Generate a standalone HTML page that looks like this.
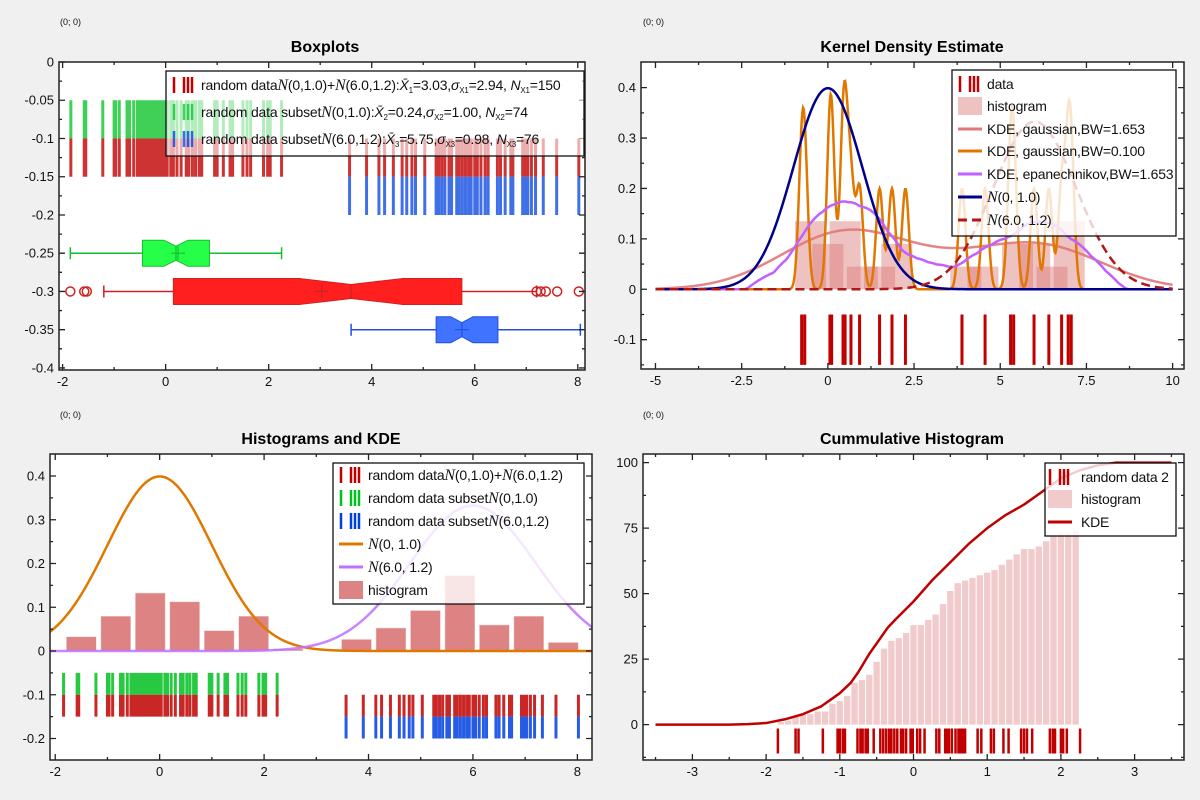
<!DOCTYPE html>
<html><head><meta charset="utf-8">
<style>
html,body{margin:0;padding:0;background:#f0f0f0;}
svg{display:block;font-family:"Liberation Sans","DejaVu Sans",sans-serif;}
.tl{font-size:13px;fill:#111;}
.lg{font-size:14px;fill:#111;letter-spacing:-0.2px;}
.ttl{font-size:16px;font-weight:bold;fill:#000;}
.org{font-size:9px;fill:#111;}
</style></head>
<body>
<svg id="root" width="1200" height="800" viewBox="0 0 1200 800" xmlns="http://www.w3.org/2000/svg"></svg>
<script>
// ---------- data ----------
const groupA = [-1.84,-1.58,-1.55,-1.22,-1.0,-0.97,-0.9,-0.75,-0.7,-0.62,-0.55,-0.5,-0.45,-0.4,-0.35,-0.3,-0.25,-0.2,-0.15,-0.1,-0.05,0.0,0.03,0.1,0.15,0.22,0.3,0.4,0.45,0.52,0.58,0.65,0.7,0.95,1.0,1.12,1.25,1.3,1.5,1.58,1.65,1.9,1.98,2.03,2.25];
const groupB = [3.57,3.9,4.14,4.25,4.42,4.59,4.68,4.78,4.85,5.03,5.25,5.3,5.36,5.42,5.5,5.55,5.65,5.7,5.76,5.82,5.88,5.93,6.0,6.05,6.12,6.2,6.26,6.44,6.5,6.59,6.7,6.74,6.93,6.98,7.03,7.1,7.18,7.33,7.59,8.02];
const boxNames = ['green','red','blue'];
const boxMin = [-1.85,-1.2,3.6];
const boxQ1 = [-0.45,0.15,5.25];
const boxMed = [0.2,3.6,5.75];
const boxQ3 = [0.85,5.75,6.45];
const boxMax = [2.25,7.2,8.05];
const boxMean = [0.24,3.03,5.75];
const boxPos = [-0.25,-0.3,-0.35];
const redOutliers = [-1.85,-1.58,-1.53,7.2,7.28,7.38,7.6,8.02];

const kdeRug = [-0.76,-0.67,0.06,0.11,0.44,0.5,0.67,0.92,1.5,1.86,2.25,3.89,4.56,5.3,5.39,5.98,6.41,6.78,6.97,7.06];
const kdeHistCenters = [-0.5,0,0.5,1,1.5,2,4,4.5,5.5,6,6.5,7];
const kdeHistHeights = [0.135,0.09,0.135,0.045,0.045,0.09,0.045,0.045,0.09,0.09,0.045,0.135];

const histCenters = [-1.5,-0.84,-0.18,0.48,1.14,1.8,2.46,3.77,4.43,5.09,5.75,6.41,7.07,7.73];
const histHeights = [0.033,0.08,0.133,0.113,0.047,0.08,0.005,0.027,0.053,0.093,0.173,0.06,0.08,0.02];

const cumRug = [-1.84,-1.6,-1.56,-1.23,-1.03,-1.0,-0.96,-0.93,-0.76,-0.72,-0.69,-0.65,-0.62,-0.54,-0.45,-0.41,-0.37,-0.33,-0.3,-0.26,-0.22,-0.17,-0.14,-0.1,-0.04,-0.01,0.05,0.09,0.15,0.31,0.35,0.43,0.46,0.48,0.52,0.57,0.61,0.64,0.67,0.7,0.87,0.92,1.05,1.09,1.22,1.29,1.46,1.5,1.54,1.61,1.85,1.89,1.92,2.0,2.03,2.08,2.26];
const cumCounts = [1,1.5,3,4,4,5,5,8,9,11,16,17,19,24,29,32,33,35,38,38,40,42,46,51,54,55,56,57,58,59,61,63,65,67,67,68,70,72,73,73,74];
const cumBinStart = -1.85;
const cumBinWidth = 0.1;
const cumKdeX = [-3.5,-3,-2.5,-2.25,-2,-1.75,-1.5,-1.25,-1,-0.85,-0.75,-0.6,-0.5,-0.35,-0.25,0,0.25,0.5,0.75,1,1.25,1.5,1.75,2,2.25,2.5,2.75,3,3.5];
const cumKdeY = [0,0,0,0.2,0.6,2,4,7,12,16,20,27,31,37,40,47,55,62,69,75,80,84,89,94,97,99,100,100,100];

// ---------- helpers ----------
const NS = 'http://www.w3.org/2000/svg';
const root = document.getElementById('root');
function mk(tag, attrs, parent, name){
  const e = document.createElementNS(NS, tag);
  for (const k in attrs) e.setAttribute(k, attrs[k]);
  
  
  parent.appendChild(e);
  return e;
}
function Panel(name, f, xd, yd){
  const p = {f:f, xd:xd, yd:yd};
  p.x = v => f.l + (v - xd[0]) / (xd[1] - xd[0]) * (f.r - f.l);
  p.y = v => f.b - (v - yd[0]) / (yd[1] - yd[0]) * (f.b - f.t);
  p.g = mk('g', {}, root, name);
  mk('rect', {x:f.l, y:f.t, width:f.r-f.l, height:f.b-f.t, fill:'#fff'}, p.g, 'plot-area');
  const cid = name + '-clip';
  const cp = mk('clipPath', {id:cid}, p.g, 'clip');
  mk('rect', {x:f.l, y:f.t, width:f.r-f.l, height:f.b-f.t}, cp, 'clip-rect');
  p.c = mk('g', {'clip-path':'url(#'+cid+')'}, p.g, 'plot-content');
  return p;
}
function axes(p, xt, yt, xm, ym, xfmt, yfmt){
  const f = p.f, g = mk('g', {}, p.g, 'axes');
  let d = '';
  xt.forEach(v => { const X = p.x(v); d += `M${X},${f.b}v-6M${X},${f.t}v6`; });
  yt.forEach(v => { const Y = p.y(v); d += `M${f.l},${Y}h6M${f.r},${Y}h-6`; });
  xm.forEach(v => { const X = p.x(v); d += `M${X},${f.b}v-3M${X},${f.t}v3`; });
  ym.forEach(v => { const Y = p.y(v); d += `M${f.l},${Y}h3M${f.r},${Y}h-3`; });
  mk('path', {d:d, stroke:'#222', 'stroke-width':1.3, fill:'none'}, g, 'tick-marks');
  xt.forEach(v => { const t = mk('text', {x:p.x(v), y:f.b+16, 'text-anchor':'middle', class:'tl'}, g, 'x-tick-label'); t.textContent = xfmt(v); });
  yt.forEach(v => { const t = mk('text', {x:f.l-5, y:p.y(v)+4.5, 'text-anchor':'end', class:'tl'}, g, 'y-tick-label'); t.textContent = yfmt(v); });
  mk('rect', {x:f.l, y:f.t, width:f.r-f.l, height:f.b-f.t, fill:'none', stroke:'#222', 'stroke-width':1.5}, g, 'plot-frame');
}
function title(txt, cx, y, ox, oy){
  const t = mk('text', {x:cx, y:y, 'text-anchor':'middle', class:'ttl'}, root, 'chart-title'); t.textContent = txt;
  const o = mk('text', {x:ox, y:oy, class:'org'}, root, 'origin-label'); o.textContent = '(0; 0)';
}
function rug(p, vals, y0, y1, color, w, op, name){
  let d = '';
  vals.forEach(v => { d += `M${p.x(v)},${p.y(y0)}V${p.y(y1)}`; });
  mk('path', {d:d, stroke:color, 'stroke-width':w, 'stroke-opacity':op, fill:'none'}, p.c, name);
}
function linePath(p, xs, ys){ return xs.map((x,i)=>(i?'L':'M')+p.x(x).toFixed(2)+','+p.y(ys[i]).toFixed(2)).join(''); }
function normal(x, m, s){ return Math.exp(-0.5*((x-m)/s)**2)/(s*Math.sqrt(2*Math.PI)); }
function legendBox(g, x, y, w, h, a){ mk('rect', {x:x, y:y, width:w, height:h, fill:'rgba(255,255,255,'+a+')', stroke:'#111', 'stroke-width':1.3}, g, 'legend-box'); }
function legRug(g, x, y, color, name){
  let d = `M${x+2},${y-8}V${y+8}`;
  [x+12, x+16, x+20].forEach(X => d += `M${X},${y-8}V${y+8}`);
  mk('path', {d:d, stroke:color, 'stroke-width':2.5, fill:'none'}, g, name);
}
function legLine(g, x, y, color, dash, name){ mk('line', {x1:x, y1:y, x2:x+24, y2:y, stroke:color, 'stroke-width':3, 'stroke-dasharray':dash||'none'}, g, name); }
function legRect(g, x, y, color, name){ mk('rect', {x:x, y:y-9, width:24, height:18, fill:color}, g, name); }
function legText(g, x, y, html){ const t = mk('text', {x:x, y:y+5, class:'lg'}, g, 'legend-label'); t.innerHTML = html; }
const NN = '<tspan font-family="Liberation Serif" font-style="italic" font-size="16">N</tspan>';

// ---------- Panel 1: Boxplots ----------
title('Boxplots', 325, 52, 60, 25);
const p1 = Panel('boxplot-panel', {l:59, t:62, r:585, b:370}, [-2.07, 8.14], [-0.4027, 0]);
rug(p1, groupA, -0.05, -0.1, '#00c020', 3, 0.75, 'rug-subset-1');
rug(p1, groupA, -0.1, -0.15, '#c00000', 3, 0.8, 'rug-all-left');
rug(p1, groupB, -0.1, -0.15, '#c00000', 3, 0.8, 'rug-all-right');
rug(p1, groupB, -0.15, -0.2, '#0040e0', 3, 0.75, 'rug-subset-2');
const boxFill = ['rgba(0,255,40,0.85)','rgba(255,0,0,0.88)','rgba(30,90,255,0.85)'];
const boxStroke = ['#10c030','#d02020','#2050e0'];
boxNames.forEach((n,i) => {
  const g = mk('g', {}, p1.c, 'boxplot-' + n);
  const yc = p1.y(boxPos[i]), hh = 13, nh = 7;
  const xq1 = p1.x(boxQ1[i]), xq3 = p1.x(boxQ3[i]), xm = p1.x(boxMed[i]);
  const notch = (xq3 - xq1) * 0.18;
  mk('path', {d:`M${p1.x(boxMin[i])},${yc}H${xq1}M${xq3},${yc}H${p1.x(boxMax[i])}M${p1.x(boxMin[i])},${yc-6}v12M${p1.x(boxMax[i])},${yc-6}v12`, stroke:boxStroke[i], 'stroke-width':1.5, fill:'none'}, g, 'whiskers');
  mk('path', {d:`M${xq1},${yc-hh}H${xm-notch}L${xm},${yc-nh}L${xm+notch},${yc-hh}H${xq3}V${yc+hh}H${xm+notch}L${xm},${yc+nh}L${xm-notch},${yc+hh}H${xq1}Z`, fill:boxFill[i], stroke:boxStroke[i], 'stroke-width':1}, g, 'box');
  mk('path', {d:`M${xm},${yc-nh}V${yc+nh}M${p1.x(boxMean[i])-7},${yc}h14M${p1.x(boxMean[i])},${yc-7}v14`, stroke:boxStroke[i], 'stroke-width':1.2, fill:'none'}, g, 'median-mean');
});
redOutliers.forEach(v => { mk('circle', {cx:p1.x(v), cy:p1.y(-0.3), r:4.5, fill:'none', stroke:'#d02020', 'stroke-width':1.5}, p1.c, 'outlier'); });
axes(p1, [-2,0,2,4,6,8], [0,-0.05,-0.1,-0.15,-0.2,-0.25,-0.3,-0.35,-0.4], [-1,1,3,5,7], [-0.025,-0.075,-0.125,-0.175,-0.225,-0.275,-0.325,-0.375], v=>String(v), v=>String(v));
{
  const g = mk('g', {}, p1.g, 'legend');
  legendBox(g, 166, 71, 418, 85, 0.6);
  legRug(g, 172, 85, '#c00000', 'legend-swatch-all');
  legText(g, 201, 85, 'random data'+NN+'(0,1.0)+'+NN+'(6.0,1.2):<tspan font-style="italic">X̄</tspan><tspan font-size="8" dy="3">1</tspan><tspan dy="-3">=3.03,</tspan><tspan font-style="italic">σ</tspan><tspan font-size="8" dy="3">X1</tspan><tspan dy="-3">=2.94, </tspan><tspan font-style="italic">N</tspan><tspan font-size="8" dy="3">X1</tspan><tspan dy="-3">=150</tspan>');
  legRug(g, 172, 112, 'rgba(0,200,40,0.75)', 'legend-swatch-subset-1');
  legText(g, 201, 112, 'random data subset'+NN+'(0,1.0):<tspan font-style="italic">X̄</tspan><tspan font-size="8" dy="3">2</tspan><tspan dy="-3">=0.24,</tspan><tspan font-style="italic">σ</tspan><tspan font-size="8" dy="3">X2</tspan><tspan dy="-3">=1.00, </tspan><tspan font-style="italic">N</tspan><tspan font-size="8" dy="3">X2</tspan><tspan dy="-3">=74</tspan>');
  legRug(g, 172, 139, 'rgba(0,60,230,0.75)', 'legend-swatch-subset-2');
  legText(g, 201, 139, 'random data subset'+NN+'(6.0,1.2):<tspan font-style="italic">X̄</tspan><tspan font-size="8" dy="3">3</tspan><tspan dy="-3">=5.75,</tspan><tspan font-style="italic">σ</tspan><tspan font-size="8" dy="3">X3</tspan><tspan dy="-3">=0.98, </tspan><tspan font-style="italic">N</tspan><tspan font-size="8" dy="3">X3</tspan><tspan dy="-3">=76</tspan>');
}

// ---------- Panel 2: KDE ----------
title('Kernel Density Estimate', 912, 52, 643, 25);
const p2 = Panel('kde-panel', {l:641, t:62, r:1184, b:369}, [-5.42, 10.33], [-0.1582, 0.4509]);
const hw2 = 0.45;
kdeHistCenters.forEach((c,i) => { mk('rect', {x:p2.x(c-hw2), y:p2.y(kdeHistHeights[i]), width:p2.x(c+hw2)-p2.x(c-hw2), height:p2.y(0)-p2.y(kdeHistHeights[i]), fill:'rgba(220,120,120,0.45)'}, p2.c, 'histogram-bar'); });
const kx = []; for (let v = -5; v <= 10.0001; v += 0.02) kx.push(v);
const gk = (h) => kx.map(x => kdeRug.reduce((s,r)=>s+normal(x,r,h),0)/kdeRug.length);
const ek = (h) => kx.map(x => kdeRug.reduce((s,r)=>{const u=(x-r)/h; return s + (Math.abs(u)<1 ? 0.75*(1-u*u)/h : 0);},0)/kdeRug.length);
mk('path', {d:linePath(p2, kx, gk(1.653)), stroke:'#e07878', 'stroke-width':2.5, fill:'none', 'stroke-opacity':0.9}, p2.c, 'kde-gaussian-wide');
mk('path', {d:linePath(p2, kx, gk(0.1)), stroke:'#e07800', 'stroke-width':2.5, fill:'none'}, p2.c, 'kde-gaussian-narrow');
mk('path', {d:linePath(p2, kx, ek(1.653)), stroke:'#c060ff', 'stroke-width':2.5, fill:'none'}, p2.c, 'kde-epanechnikov');
mk('path', {d:linePath(p2, kx, kx.map(x=>normal(x,0,1))), stroke:'#00008b', 'stroke-width':2.5, fill:'none'}, p2.c, 'normal-0-1');
mk('path', {d:linePath(p2, kx, kx.map(x=>normal(x,6,1.2))), stroke:'#b01818', 'stroke-width':2.5, fill:'none', 'stroke-dasharray':'9,5'}, p2.c, 'normal-6-1.2');
rug(p2, kdeRug, -0.05, -0.15, '#c00000', 3, 1, 'rug-data');
axes(p2, [-5,-2.5,0,2.5,5,7.5,10], [-0.1,0,0.1,0.2,0.3,0.4], [-3.75,-1.25,1.25,3.75,6.25,8.75], [-0.15,-0.05,0.05,0.15,0.25,0.35], v=>String(v), v=>String(v));
{
  const g = mk('g', {}, p2.g, 'legend');
  legendBox(g, 952, 70, 224, 166, 0.8);
  legRug(g, 958, 84, '#c00000', 'legend-swatch-data'); legText(g, 987, 84, 'data');
  legRect(g, 958, 106, 'rgba(220,120,120,0.45)', 'legend-swatch-histogram'); legText(g, 987, 106, 'histogram');
  legLine(g, 958, 129, '#e07878', null, 'legend-swatch-kde-wide'); legText(g, 987, 129, 'KDE, gaussian,BW=1.653');
  legLine(g, 958, 151, '#e07800', null, 'legend-swatch-kde-narrow'); legText(g, 987, 151, 'KDE, gaussian,BW=0.100');
  legLine(g, 958, 174, '#c060ff', null, 'legend-swatch-epan'); legText(g, 987, 174, 'KDE, epanechnikov,BW=1.653');
  legLine(g, 958, 197, '#00008b', null, 'legend-swatch-n0'); legText(g, 987, 197, NN+'(0, 1.0)');
  legLine(g, 958, 220, '#b01818', '9,5', 'legend-swatch-n6'); legText(g, 987, 220, NN+'(6.0, 1.2)');
}

// ---------- Panel 3: Histograms and KDE ----------
title('Histograms and KDE', 321, 444, 60, 418);
const p3 = Panel('histogram-panel', {l:50, t:454, r:592, b:760}, [-2.1, 8.28], [-0.2491, 0.4503]);
const hw3 = 0.29;
histCenters.forEach((c,i) => { mk('rect', {x:p3.x(c-hw3), y:p3.y(histHeights[i]), width:p3.x(c+hw3)-p3.x(c-hw3), height:p3.y(0)-p3.y(histHeights[i]), fill:'rgba(210,90,90,0.75)', stroke:'rgba(255,255,255,0.6)', 'stroke-width':1}, p3.c, 'histogram-bar'); });
const nx = []; for (let v = -2.2; v <= 8.4; v += 0.02) nx.push(v);
mk('path', {d:linePath(p3, nx, nx.map(x=>normal(x,0,1))), stroke:'#e07800', 'stroke-width':2.5, fill:'none'}, p3.c, 'normal-0-1');
mk('path', {d:linePath(p3, nx, nx.map(x=>normal(x,6,1.2))), stroke:'#c070ff', 'stroke-width':2.5, fill:'none', 'stroke-opacity':0.85}, p3.c, 'normal-6-1.2');
rug(p3, groupA, -0.05, -0.1, '#00c020', 3, 0.85, 'rug-subset-1');
rug(p3, groupA, -0.1, -0.15, '#c00000', 3, 0.85, 'rug-all-left');
rug(p3, groupB, -0.1, -0.15, '#c00000', 3, 0.85, 'rug-all-right');
rug(p3, groupB, -0.15, -0.2, '#0040e0', 3, 0.85, 'rug-subset-2');
axes(p3, [-2,0,2,4,6,8], [-0.2,-0.1,0,0.1,0.2,0.3,0.4], [-1,1,3,5,7], [-0.15,-0.05,0.05,0.15,0.25,0.35], v=>String(v), v=>String(v));
{
  const g = mk('g', {}, p3.g, 'legend');
  legendBox(g, 333, 463, 251, 141, 0.8);
  legRug(g, 339, 475, '#c00000', 'legend-swatch-all'); legText(g, 368, 475, 'random data'+NN+'(0,1.0)+'+NN+'(6.0,1.2)');
  legRug(g, 339, 498, '#00c020', 'legend-swatch-subset-1'); legText(g, 368, 498, 'random data subset'+NN+'(0,1.0)');
  legRug(g, 339, 521, '#0040e0', 'legend-swatch-subset-2'); legText(g, 368, 521, 'random data subset'+NN+'(6.0,1.2)');
  legLine(g, 339, 544, '#e07800', null, 'legend-swatch-n0'); legText(g, 368, 544, NN+'(0, 1.0)');
  legLine(g, 339, 567, '#c070ff', null, 'legend-swatch-n6'); legText(g, 368, 567, NN+'(6.0, 1.2)');
  legRect(g, 339, 590, 'rgba(210,90,90,0.75)', 'legend-swatch-histogram'); legText(g, 368, 590, 'histogram');
}

// ---------- Panel 4: Cumulative Histogram ----------
title('Cummulative Histogram', 912, 444, 643, 418);
const p4 = Panel('cumulative-panel', {l:643, t:454, r:1184, b:760}, [-3.67, 3.67], [-13.5, 103.3]);
cumCounts.forEach((c,i) => { const x0 = cumBinStart + i*cumBinWidth; mk('rect', {x:p4.x(x0)+0.5, y:p4.y(c), width:p4.x(x0+cumBinWidth)-p4.x(x0)-1, height:p4.y(0)-p4.y(c), fill:'rgba(230,160,160,0.55)'}, p4.c, 'cumulative-bar'); });
mk('path', {d:linePath(p4, cumKdeX, cumKdeY), stroke:'#c00000', 'stroke-width':2.5, fill:'none', 'stroke-linejoin':'round'}, p4.c, 'cumulative-kde');
rug(p4, cumRug, -1.5, -11, '#c00000', 2.5, 1, 'rug-data');
axes(p4, [-3,-2,-1,0,1,2,3], [0,25,50,75,100], [-3.5,-2.5,-1.5,-0.5,0.5,1.5,2.5,3.5], [-12.5,12.5,37.5,62.5,87.5], v=>String(v), v=>String(v));
{
  const g = mk('g', {}, p4.g, 'legend');
  legendBox(g, 1045, 463, 131, 73, 0.8);
  legRug(g, 1048, 477, '#c00000', 'legend-swatch-data'); legText(g, 1081, 477, 'random data 2');
  legRect(g, 1048, 499, 'rgba(230,160,160,0.55)', 'legend-swatch-histogram'); legText(g, 1081, 499, 'histogram');
  legLine(g, 1048, 522, '#c00000', null, 'legend-swatch-kde'); legText(g, 1081, 522, 'KDE');
}
</script>
</body></html>
